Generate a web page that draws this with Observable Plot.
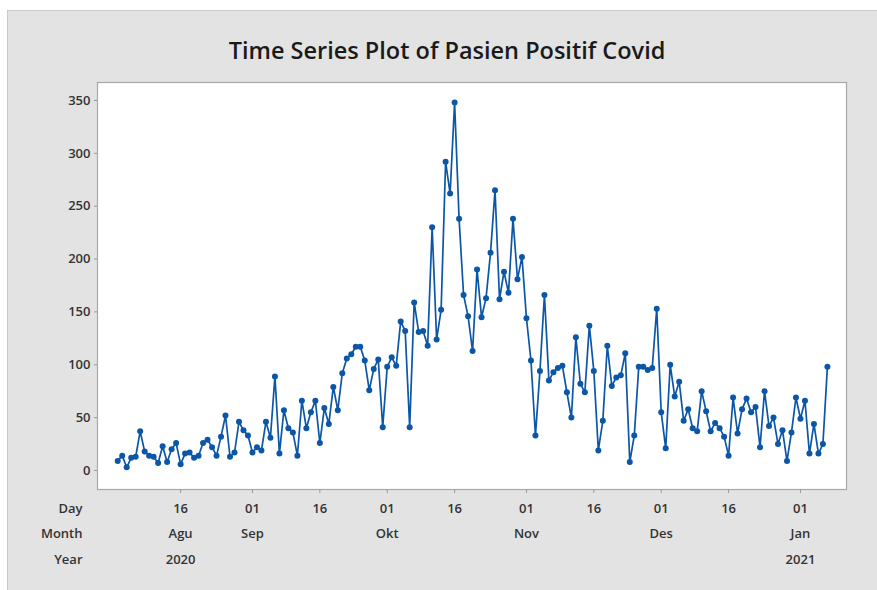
<!DOCTYPE html>
<html><head><meta charset="utf-8">
<script src="https://cdn.jsdelivr.net/npm/d3@7"></script>
<script src="https://cdn.jsdelivr.net/npm/@observablehq/plot@0.6"></script>
<style>
html,body{margin:0;padding:0;background:#fff;}
#wrap{position:relative;width:877px;height:590px;overflow:hidden;}
#panel{position:absolute;left:7px;top:10px;width:890px;height:600px;background:#e3e3e3;border:1px solid #c9c9c9;box-sizing:border-box;}
#chart{position:absolute;left:0;top:0;}
</style></head><body>
<div id="wrap"><div id="panel"></div><div id="chart"></div></div>
<script>
const title = "Time Series Plot of Pasien Positif Covid";
const startDate = "2020-08-02";
// daily values
const aug = [9, 14, 3, 12, 13, 37, 18, 14, 13, 7, 23, 8, 20, 26, 6, 16, 17, 12, 14, 26, 29, 22, 14, 32, 52, 13, 17, 46, 38, 33];
const sep = [17, 22, 19, 46, 31, 89, 16, 57, 40, 36, 14, 66, 40, 55, 66, 26, 59, 44, 79, 57, 92, 106, 110, 117, 117, 104, 76, 96, 105, 41];
const okt = [98, 107, 99, 141, 132, 41, 159, 131, 132, 118, 230, 124, 152, 292, 262, 348, 238, 166, 146, 113, 190, 145, 163, 206, 265, 162, 188, 168, 238, 181, 202];
const nov = [144, 104, 33, 94, 166, 85, 93, 97, 99, 74, 50, 126, 82, 74, 137, 94, 19, 47, 118, 80, 88, 90, 111, 8, 33, 98, 98, 95, 97, 153];
const des = [55, 21, 100, 70, 84, 47, 58, 40, 37, 75, 56, 37, 45, 40, 32, 14, 69, 35, 58, 68, 55, 60, 22, 75, 42, 50, 25, 38, 9, 36, 69];
const jan = [49, 66, 16, 44, 16, 25, 98];

const tickDates = ["2020-08-16","2020-09-01","2020-09-16","2020-10-01","2020-10-16","2020-11-01","2020-11-16","2020-12-01","2020-12-16","2021-01-01"];
const dayLabels = ["16","01","16","01","16","01","16","01","16","01"];
const monthLabels = ["Agu","Sep","","Okt","","Nov","","Des","","Jan"];
const yearLabels = ["2020","","","","","","","","","2021"];
const rowHeaders = ["Day","Month","Year"];
const yTicks = [0, 50, 100, 150, 200, 250, 300, 350];

const values = [...aug, ...sep, ...okt, ...nov, ...des, ...jan];
const t0 = new Date(startDate + "T00:00:00Z").getTime();
const data = values.map((v, i) => ({date: new Date(t0 + i * 864e5), value: v}));
const ticks = tickDates.map(s => new Date(s + "T00:00:00Z"));
const rows = ticks.map((d, i) => ({date: d, day: dayLabels[i], month: monthLabels[i], year: yearLabels[i]}));
const rowOffsets = [19, 44, 70];

const blue = "#0b56a6";
const lab = "#333333";
const fs = 13;

const chart = Plot.plot({
  width: 877, height: 590,
  marginLeft: 97, marginRight: 31, marginTop: 82, marginBottom: 101,
  x: {type: "utc", domain: [new Date(Date.UTC(2020, 6, 28, 12)), new Date(Date.UTC(2021, 0, 11, 6))]},
  y: {domain: [-18, 367]},
  style: {background: "transparent", fontFamily: "'Open Sans', sans-serif", fontSize: "13px"},
  marks: [
    Plot.frame({fill: "white", stroke: null}),
    Plot.line(data, {x: "date", y: "value", stroke: blue, strokeWidth: 1.7}),
    Plot.dot(data, {x: "date", y: "value", r: 3, fill: blue, stroke: null}),
    Plot.frame({stroke: "#a8a8a8", strokeWidth: 1.2}),
    Plot.axisY({ticks: yTicks, tickSize: 3, tickPadding: 4, label: null, stroke: "#999", fill: lab, fontWeight: 600, fontSize: fs}),
    Plot.axisX({ticks: ticks, tickFormat: () => "", tickSize: 4, tickPadding: 0, label: null, stroke: "#999", fill: "none"}),
    Plot.text(rows, {x: "date", text: "day", frameAnchor: "bottom", lineAnchor: "middle", dy: rowOffsets[0], fill: lab, fontWeight: 600, fontSize: fs}),
    Plot.text(rows, {x: "date", text: "month", frameAnchor: "bottom", lineAnchor: "middle", dy: rowOffsets[1], fill: lab, fontWeight: 600, fontSize: fs}),
    Plot.text(rows, {x: "date", text: "year", frameAnchor: "bottom", lineAnchor: "middle", dy: rowOffsets[2], fill: lab, fontWeight: 600, fontSize: fs}),
    ...rowHeaders.map((h, i) => Plot.text([h], {text: d => d, frameAnchor: "bottom-left", lineAnchor: "middle", dx: -15, dy: rowOffsets[i], textAnchor: "end", fill: lab, fontWeight: 600, fontSize: fs})),
    Plot.text([title], {text: d => d, frameAnchor: "top", lineAnchor: "middle", dx: -25, dy: -31, fill: "#1a1a1a", fontSize: 23.5, fontWeight: 600})
  ]
});
document.getElementById("chart").append(chart);
</script>
</body></html>
